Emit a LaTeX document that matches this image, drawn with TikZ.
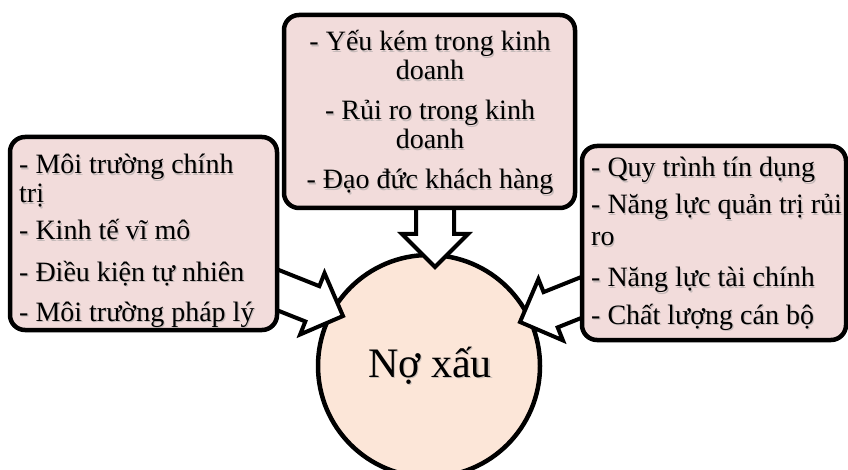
\documentclass[tikz,border=0pt]{standalone}
\usepackage{fontspec}
\setmainfont{Liberation Serif}
\usetikzlibrary{calc}
\definecolor{boxpink}{HTML}{F2DCDB}
\definecolor{circfill}{HTML}{FCE6D8}
\tikzset{
  boxsty/.style={draw=black, line width=4.5pt, fill=boxpink, rounded corners=15pt, rectangle, inner sep=0pt},
  circsty/.style={draw=black, line width=4.5pt, fill=circfill, circle, inner sep=0pt, minimum size=222pt},
  arrsty/.style={draw=black, line width=4pt, fill=white, line join=miter, miter limit=10},
  txt/.style={inner sep=0pt, font=\fontsize{28}{30}\selectfont},
  ltxt/.style={txt, anchor=base west},
  ctxt/.style={txt, anchor=base},
  shad/.style={text=black!40, opacity=0.5},
}
\newcommand\blockarr[2]{%
  \coordinate (#2h) at ($(#2)!33pt!(#1)$);
  \draw[arrsty] ($(#1)!19pt!90:(#2)$) -- ($(#2h)!19pt!90:(#2)$) -- ($(#2h)!33pt!90:(#2)$) -- (#2)
     -- ($(#2h)!33pt!-90:(#2)$) -- ($(#2h)!19pt!-90:(#2)$) -- ($(#1)!19pt!-90:(#2)$) -- cycle;
}
% shadowed text line: #1 style, #2 name, #3 x, #4 y, #5 text
\newcommand\shline[5]{%
  \node[#1, shad] (#2s) at (#3+1.2,#4+1.2) {#5};
  \node[#1] (#2) at (#3,#4) {#5};
}
\begin{document}
\begin{tikzpicture}[x=1pt,y=-1pt]
\useasboundingbox (0,0) rectangle (848,470);
\clip (0,0) rectangle (848,470);
\fill[white] (0,0) rectangle (848,470);

% centre circle
\node[circsty] (c) at (429,366) {};
\shline{inner sep=0pt, anchor=base, font=\fontsize{42}{46}\selectfont}{ctext}{430}{377}{Nợ xấu}

% block arrows
\coordinate (sL) at (255,281);
\coordinate (tL) at (343,316);
\coordinate (sT) at (435,190);
\coordinate (tT) at (435,267);
\coordinate (sR) at (605,288);
\coordinate (tR) at (520,322);
\blockarr{sL}{tL}
\blockarr{sT}{tT}
\blockarr{sR}{tR}

% boxes
\node[boxsty, minimum width=267pt, minimum height=193pt] (L) at (143.5,233.5) {};
\node[boxsty, minimum width=291pt, minimum height=193pt] (T) at (429.5,111.5) {};
\node[boxsty, minimum width=264pt, minimum height=194pt] (R) at (714,243) {};

% left text
\shline{ltxt}{l1}{19}{174}{- Môi trường chính}
\shline{ltxt}{l2}{19}{203}{trị}
\shline{ltxt}{l3}{19}{240}{- Kinh tế vĩ mô}
\shline{ltxt}{l4}{19}{281}{- Điều kiện tự nhiên}
\shline{ltxt}{l5}{19}{321}{- Môi trường pháp lý}

% top text
\shline{ctxt}{t1}{430}{51}{- Yếu kém trong kinh}
\shline{ctxt}{t2}{430}{80}{doanh}
\shline{ctxt}{t3}{430}{120}{- Rủi ro trong kinh}
\shline{ctxt}{t4}{430}{149}{doanh}
\shline{ctxt}{t5}{430}{189}{- Đạo đức khách hàng}

% right text
\shline{ltxt}{r1}{591}{177}{- Quy trình tín dụng}
\shline{ltxt}{r2}{591}{214}{- Năng lực quản trị rủi}
\shline{ltxt}{r3}{591}{246}{ro}
\shline{ltxt}{r4}{591}{287}{- Năng lực tài chính}
\shline{ltxt}{r5}{591}{324}{- Chất lượng cán bộ}
\end{tikzpicture}
\end{document}
